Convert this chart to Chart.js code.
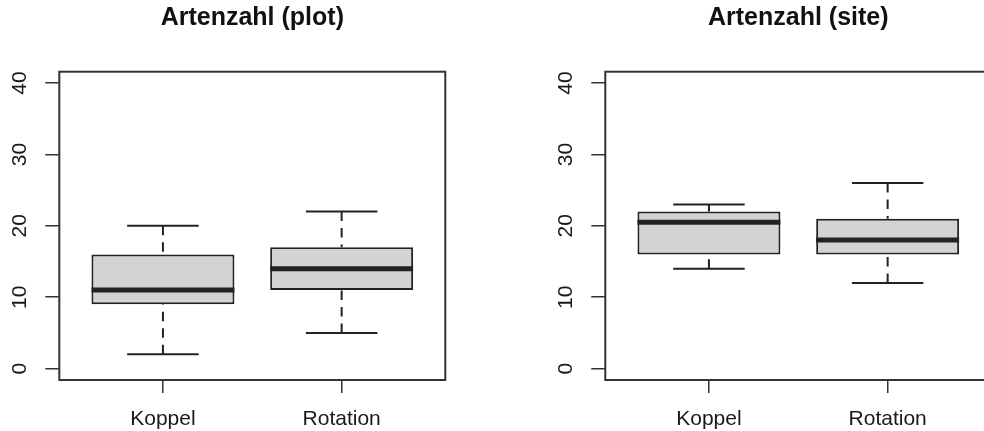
<!DOCTYPE html>
<html>
<head>
<meta charset="utf-8">
<script src="https://cdn.jsdelivr.net/npm/chart.js@4/dist/chart.umd.min.js"></script>
<style>
  html, body { margin: 0; padding: 0; background: #fff; overflow: hidden; width: 984px; height: 431px; }
  .panel { position: absolute; top: 0; width: 546px; height: 431px; }
  #p1 { left: 0; }
  #p2 { left: 546px; }
</style>
</head>
<body>
<div class="panel" id="p1"><canvas id="c1"></canvas></div>
<div class="panel" id="p2"><canvas id="c2"></canvas></div>
<script>
// ---- data ----
const categories = ['Koppel', 'Rotation'];
const yTickValues = [0, 10, 20, 30, 40];

const plotTitle = 'Artenzahl (plot)';
const plotMin    = [2, 5];
const plotQ1     = [9, 11];
const plotMedian = [11, 14];
const plotQ3     = [16, 17];
const plotMax    = [20, 22];

const siteTitle = 'Artenzahl (site)';
const siteMin    = [14, 12];
const siteQ1     = [16, 16];
const siteMedian = [20.5, 18];
const siteQ3     = [22, 21];
const siteMax    = [23, 26];

// ---- styling ----
const FONT = "'Liberation Sans', Arial, Helvetica, sans-serif";
const LINE = '#222222';
const BOX_FILL = '#d3d3d3';

function lineDs(points, width, dash, order) {
  return {
    type: 'line',
    data: points,
    borderColor: LINE,
    borderWidth: width,
    borderDash: dash || [],
    pointRadius: 0,
    pointHoverRadius: 0,
    fill: false,
    tension: 0,
    order: order
  };
}

function buildDatasets(mins, q1, med, q3, maxs) {
  const ds = [];
  ds.push({
    type: 'bar',
    data: categories.map((c, i) => ({ x: i + 1, y: [q1[i], q3[i]] })),
    backgroundColor: BOX_FILL,
    borderColor: LINE,
    borderWidth: 2,
    borderSkipped: false,
    barPercentage: 1,
    categoryPercentage: 0.8,
    order: 3
  });
  categories.forEach((c, i) => {
    const x = i + 1;
    ds.push(lineDs([{ x: x, y: mins[i] }, { x: x, y: q1[i] }], 2, [9.5, 7], 4));
    ds.push(lineDs([{ x: x, y: maxs[i] }, { x: x, y: q3[i] }], 2, [9.5, 7], 4));
    ds.push(lineDs([{ x: x - 0.2, y: mins[i] }, { x: x + 0.2, y: mins[i] }], 2, null, 2));
    ds.push(lineDs([{ x: x - 0.2, y: maxs[i] }, { x: x + 0.2, y: maxs[i] }], 2, null, 2));
    ds.push(lineDs([{ x: x - 0.4, y: med[i] }, { x: x + 0.4, y: med[i] }], 5, null, 1));
  });
  return ds;
}

const framePlugin = {
  id: 'frame',
  afterDatasetsDraw(chart) {
    const a = chart.chartArea;
    const ctx = chart.ctx;
    ctx.save();
    ctx.strokeStyle = '#333333';
    ctx.lineWidth = 2;
    ctx.strokeRect(a.left, a.top, a.right - a.left, a.bottom - a.top);
    ctx.restore();
  }
};

function makeChart(canvasId, title, mins, q1, med, q3, maxs) {
  return new Chart(document.getElementById(canvasId), {
    type: 'bar',
    data: { datasets: buildDatasets(mins, q1, med, q3, maxs) },
    plugins: [framePlugin],
    options: {
      responsive: true,
      maintainAspectRatio: false,
      animation: false,
      events: [],
      layout: { padding: { left: 0, right: 41.4, top: 0, bottom: 0 } },
      plugins: {
        legend: { display: false },
        tooltip: { enabled: false },
        title: {
          display: true,
          text: title,
          color: '#111111',
          font: { family: FONT, size: 25, weight: 'bold', lineHeight: 1.2 },
          padding: { top: 3.3, bottom: 38.4 }
        }
      },
      scales: {
        x: {
          type: 'linear',
          position: 'bottom',
          min: 0.42,
          max: 2.58,
          offset: false,
          afterBuildTicks(scale) { scale.ticks = categories.map((c, i) => ({ value: i + 1 })); },
          afterFit(scale) { scale.height = 51; },
          ticks: {
            autoSkip: false,
            maxRotation: 0,
            minRotation: 0,
            padding: 14,
            color: '#1a1a1a',
            font: { family: FONT, size: 21 },
            callback: (v) => categories[Math.round(v) - 1] || ''
          },
          grid: { display: true, drawOnChartArea: false, drawTicks: true, tickLength: 13, color: '#333333', lineWidth: 1.5, offset: false },
          border: { display: false }
        },
        y: {
          type: 'linear',
          position: 'left',
          min: -1.6,
          max: 41.6,
          beginAtZero: false,
          afterBuildTicks(scale) { scale.ticks = yTickValues.map(v => ({ value: v })); },
          afterFit(scale) { scale.width = 59.3; },
          ticks: {
            minRotation: 90,
            maxRotation: 90,
            crossAlign: 'center',
            padding: 13.6,
            color: '#1a1a1a',
            font: { family: FONT, size: 21 }
          },
          grid: { display: true, drawOnChartArea: false, drawTicks: true, tickLength: 14, color: '#333333', lineWidth: 1.5 },
          border: { display: false }
        },
        yRight: {
          type: 'linear',
          position: 'right',
          min: 0,
          max: 1,
          afterFit(scale) { scale.width = 59.3; },
          ticks: { display: false },
          grid: { display: false },
          border: { display: false }
        }
      }
    }
  });
}

makeChart('c1', plotTitle, plotMin, plotQ1, plotMedian, plotQ3, plotMax);
makeChart('c2', siteTitle, siteMin, siteQ1, siteMedian, siteQ3, siteMax);
</script>
</body>
</html>
